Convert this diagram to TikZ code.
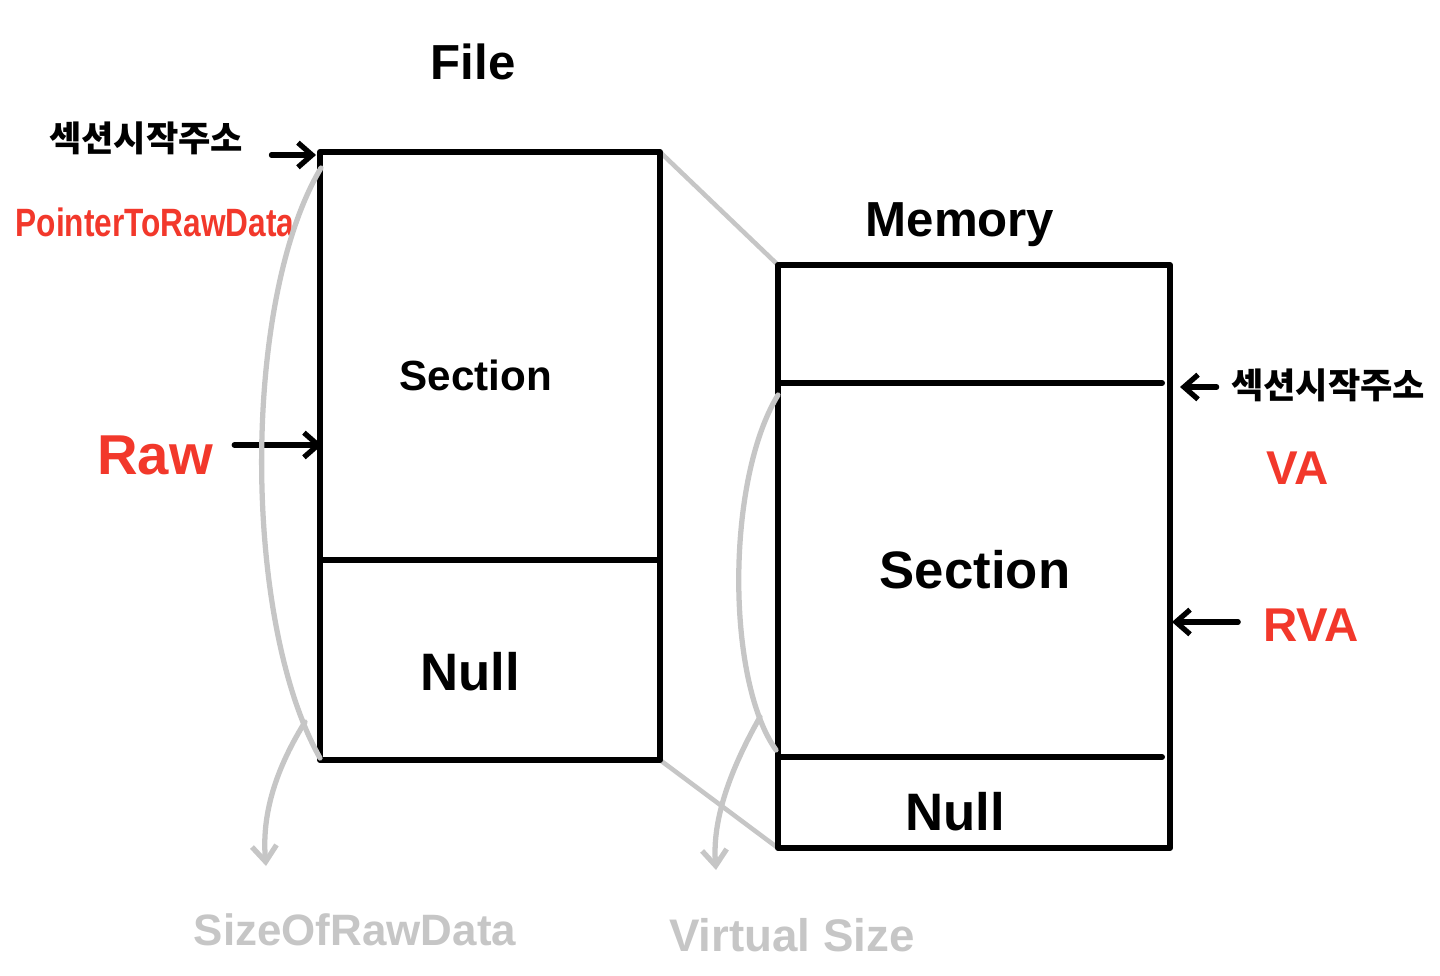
\documentclass[tikz,border=0pt]{standalone}
\usepackage{fontspec}
\setmainfont{Liberation Sans}
\newfontfamily\krfont{Noto Sans CJK KR}
\usetikzlibrary{arrows.meta}
\definecolor{redlbl}{HTML}{F2382B}
\definecolor{graylbl}{HTML}{C6C6C6}
\tikzset{
  boxline/.style={line width=3.4pt, line cap=round, line join=round, black},
  grayconn/.style={line width=2.6pt, graylbl, line cap=round},
  graycurve/.style={line width=3pt, graylbl, line cap=round},
  grayarrow/.style={line width=3pt, graylbl, line cap=round, -{Straight Barb[length=9pt,width=14pt,line width=3pt]}},
  blkarrow/.style={line width=3pt, black, line cap=round, -{Straight Barb[length=8pt,width=14pt,line width=3pt]}},
  ttl/.style={font=\bfseries\fontsize{28}{30}\selectfont, inner sep=0pt},
  sectxt/.style={font=\bfseries\fontsize{#1}{#1}\selectfont, inner sep=0pt},
  kortxt/.style={font=\krfont\bfseries\fontsize{20}{22}\selectfont, inner sep=0pt},
  redtxt/.style={font=\bfseries\fontsize{#1}{#1}\selectfont, text=redlbl, inner sep=0pt},
  graytxt/.style={font=\bfseries\fontsize{#1}{#1}\selectfont, text=graylbl, inner sep=0pt},
}
\begin{document}
\begin{tikzpicture}[x=0.02cm, y=-0.02cm]
\useasboundingbox (0,0) rectangle (1440,976);
% file box corners
\coordinate (fTL) at (320,152);
\coordinate (fTR) at (660,152);
\coordinate (fBL) at (320,760);
\coordinate (fBR) at (660,760);
\coordinate (fML) at (320,560);
\coordinate (fMR) at (660,560);
\coordinate (fStart) at (316,155);
\coordinate (fRaw) at (322,445);
% memory box corners
\coordinate (mTL) at (778,265);
\coordinate (mTR) at (1170,265);
\coordinate (mBL) at (778,848);
\coordinate (mBR) at (1170,848);
\coordinate (mD1L) at (778,383);
\coordinate (mD1R) at (1162,383);
\coordinate (mD2L) at (778,757);
\coordinate (mD2R) at (1162,757);
\coordinate (mVA) at (1180,387);
\coordinate (mRVA) at (1172,622);
% gray connectors
\draw[grayconn] (fTR) -- (mTL);
\draw[grayconn] (fBR) -- (mBL);
% boxes
\draw[boxline] (fTL) rectangle (fBR);
\draw[boxline] (fML) -- (fMR);
\draw[boxline] (mTL) rectangle (mBR);
\draw[boxline] (mD1L) -- (mD1R);
\draw[boxline] (mD2L) -- (mD2R);
% texts
\node[ttl] (file) at (473,62) {File};
\node[ttl] (mem) at (960,225) {Memory};
\node[sectxt=24] (fsec) at (476,375) {Section};
\node[sectxt=30] (fnull) at (470,672) {Null};
\node[sectxt=30] (msec) at (975,570) {Section};
\node[sectxt=30] (mnull) at (955,812) {Null};
\node[kortxt] (kl) at (146,138) {섹션시작주소};
\node[redtxt=18, yscale=1.25] (ptr) at (155,222) {PointerToRawData};
\node[redtxt=32] (raw) at (155,455) {Raw};
\node[kortxt] (kr) at (1328,385) {섹션시작주소};
\node[redtxt=27] (va) at (1298,468) {VA};
\node[redtxt=27] (rva) at (1311,625) {RVA};
\node[graytxt=25] (sord) at (355,930) {SizeOfRawData};
\node[graytxt=26] (vs) at (792,935) {Virtual Size};
% black arrows
\draw[blkarrow] ([xshift=16pt]kl.east |- fStart) -- (fStart);
\draw[blkarrow] ([xshift=12pt]raw.east |- fRaw) -- (fRaw);
\draw[blkarrow] ([xshift=-8pt]kr.west |- mVA) -- (mVA);
\draw[blkarrow] ([xshift=-14pt]rva.west |- mRVA) -- (mRVA);
% gray curves
\coordinate (lc1) at (321,168);
\coordinate (lc2) at (320,758);
\draw[graycurve] (lc1) .. controls (242,300) and (242,620) .. (lc2);
\coordinate (la1) at (305,722);
\coordinate (la2) at (266,866);
\draw[grayarrow] (la1) .. controls (272,775) and (262,820) .. (la2);
\coordinate (rc1) at (778,395);
\coordinate (rc2) at (776,750);
\draw[graycurve] (rc1) .. controls (726,480) and (726,680) .. (rc2);
\coordinate (ra1) at (760,717);
\coordinate (ra2) at (716,870);
\draw[grayarrow] (ra1) .. controls (730,770) and (712,820) .. (ra2);
\end{tikzpicture}
\end{document}
